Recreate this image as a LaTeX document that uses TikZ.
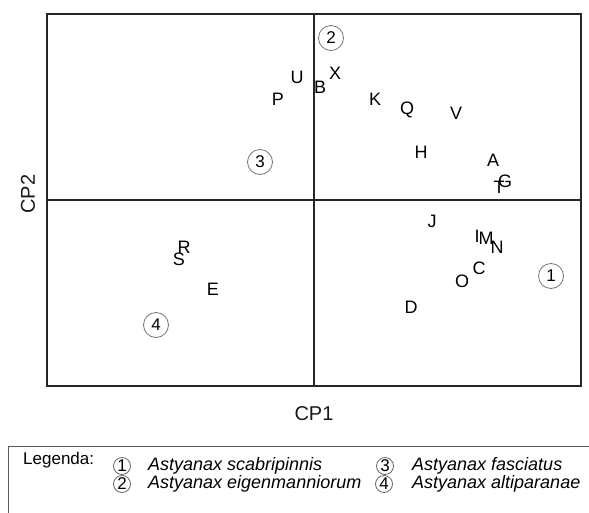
\documentclass[tikz,border=0pt]{standalone}
\usepackage{fontspec}
\setmainfont{Liberation Sans}
\begin{document}
\begin{tikzpicture}[x=1pt,y=-1pt,
  frame/.style={draw=black!85, line width=1.3pt},
  ptl/.style={inner sep=0pt, text=black, font=\fontsize{18}{18}\selectfont},
  grp/.style={circle, draw=black!55, line width=0.8pt, minimum size=25pt, inner sep=0pt, text=black, font=\fontsize{17}{17}\selectfont},
  lgrp/.style={circle, draw=black!60, line width=0.8pt, minimum size=17pt, inner sep=0pt, text=black, font=\fontsize{17}{17}\selectfont},
  axl/.style={inner sep=0pt, text=black!90, font=\fontsize{20}{20}\selectfont},
  lgt/.style={inner sep=0pt, anchor=west, text=black, font=\fontsize{18}{18}\selectfont\itshape},
  lgb/.style={draw=black!65, line width=1pt}]
\useasboundingbox (0,0) rectangle (589,512);
% plot frame and axes
\draw[frame] (47,14) rectangle (581,386);
\coordinate (xl) at (47,200);
\coordinate (xr) at (581,200);
\coordinate (yt) at (314,14);
\coordinate (yb) at (314,386);
\draw[frame] (xl) -- (xr);
\draw[frame] (yt) -- (yb);
\node[axl] (cp1) at (314,414) {CP1};
\node[axl, rotate=90] (cp2) at (28,194) {CP2};
% points
\node[ptl] (U) at (297,77) {U};
\node[ptl] (P) at (278,99) {P};
\node[ptl] (B) at (320,87) {B};
\node[ptl] (X) at (335,73) {X};
\node[ptl] (K) at (375,99) {K};
\node[ptl] (Q) at (407,110) {Q};
\node[ptl] (V) at (456,113) {V};
\node[ptl] (H) at (421,152) {H};
\node[ptl] (A) at (493,160) {A};
\node[ptl] (G) at (505,181) {G};
\node[ptl] (T) at (499,187) {T};
\node[ptl] (R) at (184,247) {R};
\node[ptl] (S) at (179,259) {S};
\node[ptl] (E) at (213,289) {E};
\node[ptl] (J) at (432,221) {J};
\node[ptl] (I) at (477,236) {I};
\node[ptl] (M) at (486,238) {M};
\node[ptl] (N) at (497,247) {N};
\node[ptl] (C) at (479,268) {C};
\node[ptl] (O) at (462,281) {O};
\node[ptl] (D) at (411,307) {D};
% group circles
\node[grp] (g1) at (551,276) {1};
\node[grp] (g2) at (331,38) {2};
\node[grp] (g3) at (260,162) {3};
\node[grp] (g4) at (156,325) {4};
% legend
\coordinate (lb) at (8,513);
\coordinate (lc) at (8,446);
\coordinate (lr) at (590,446);
\draw[lgb] (lb) -- (lc) -- (lr);
\node[inner sep=0pt, anchor=west, text=black, font=\fontsize{17}{17}\selectfont] (leg) at (23,460) {Legenda:};
\node[lgrp] (l1) at (122,466) {1};
\node[lgrp] (l2) at (122,484) {2};
\node[lgrp] (l3) at (385,466) {3};
\node[lgrp] (l4) at (384,484) {4};
\node[lgt] (t1) at (148,466) {Astyanax scabripinnis};
\node[lgt] (t2) at (148,484) {Astyanax eigenmanniorum};
\node[lgt] (t3) at (412,466) {Astyanax fasciatus};
\node[lgt] (t4) at (412,484) {Astyanax altiparanae};
\end{tikzpicture}
\end{document}
